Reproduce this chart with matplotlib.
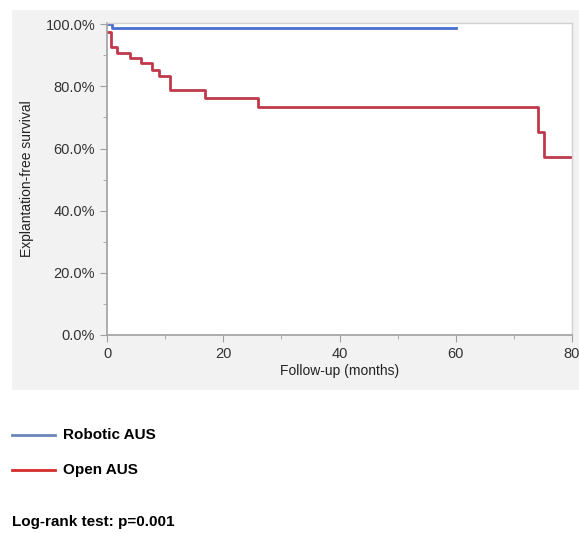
import matplotlib.pyplot as plt
from matplotlib.patches import Rectangle
from matplotlib.lines import Line2D
from matplotlib.ticker import MultipleLocator, FuncFormatter

plt.rcParams['font.family'] = ['Liberation Sans', 'DejaVu Sans']

# Kaplan-Meier step data (months, survival %)
robotic_t = [0, 0.8, 60.1]
robotic_s = [100.0, 98.8, 98.8]

open_t = [0, 0.7, 1.7, 3.9, 5.9, 7.8, 8.9, 10.9, 16.9, 25.9, 74.1, 75.1, 80]
open_s = [97.4, 92.7, 90.9, 89.2, 87.4, 85.2, 83.3, 78.8, 76.3, 73.5, 65.4, 57.3, 57.3]

fig = plt.figure(figsize=(5.79, 5.33), dpi=100)

# light gray panel behind the plot
fig.patches.append(Rectangle((12 / 579, 1 - 390 / 533), 1 - 12 / 579, 380 / 533,
                             transform=fig.transFigure, facecolor='#f2f2f2',
                             edgecolor='none', zorder=-10))

ax = fig.add_axes([107 / 579, 1 - 335 / 533, 465 / 579, 312 / 533])
ax.set_zorder(5)
ax.set_facecolor('white')

ax.step(robotic_t, robotic_s, where='post', color='#4a6fd0', linewidth=2)
ax.step(open_t, open_s, where='post', color='#c0394b', linewidth=2)

ax.set_xlim(0, 80)
ax.set_ylim(0, 100.4)
ax.xaxis.set_major_locator(MultipleLocator(20))
ax.xaxis.set_minor_locator(MultipleLocator(10))
ax.yaxis.set_major_locator(MultipleLocator(20))
ax.yaxis.set_minor_locator(MultipleLocator(10))
ax.yaxis.set_major_formatter(FuncFormatter(lambda v, p: f"{v:.1f}%"))

for side in ['left', 'bottom']:
    ax.spines[side].set_color('#a0a0a0')
    ax.spines[side].set_linewidth(1.2)
for side in ['top', 'right']:
    ax.spines[side].set_color('#d0d0d0')
    ax.spines[side].set_linewidth(1)

ax.tick_params(which='major', length=5, color='#a0a0a0', labelsize=10.5, labelcolor='#333333')
ax.tick_params(which='minor', length=3, color='#a0a0a0')

ax.set_xlabel("Follow-up (months)", fontsize=10, color='#222222', labelpad=2)
ax.set_ylabel("Explantation-free survival", fontsize=10, color='#222222', labelpad=8)

# legend drawn below the panel
fig.add_artist(Line2D([12 / 579, 55 / 579], [1 - 435 / 533] * 2, transform=fig.transFigure,
                      color='#6b85b8', linewidth=2))
fig.text(63 / 579, 1 - 435 / 533, "Robotic AUS", fontsize=11, fontweight='bold', va='center')
fig.add_artist(Line2D([12 / 579, 55 / 579], [1 - 470 / 533] * 2, transform=fig.transFigure,
                      color='#d42a2a', linewidth=2))
fig.text(63 / 579, 1 - 470 / 533, "Open AUS", fontsize=11, fontweight='bold', va='center')

fig.text(12 / 579, 1 - 522 / 533, "Log-rank test: p=0.001", fontsize=11, fontweight='bold', va='center')

fig.savefig("out.png", dpi=100)
